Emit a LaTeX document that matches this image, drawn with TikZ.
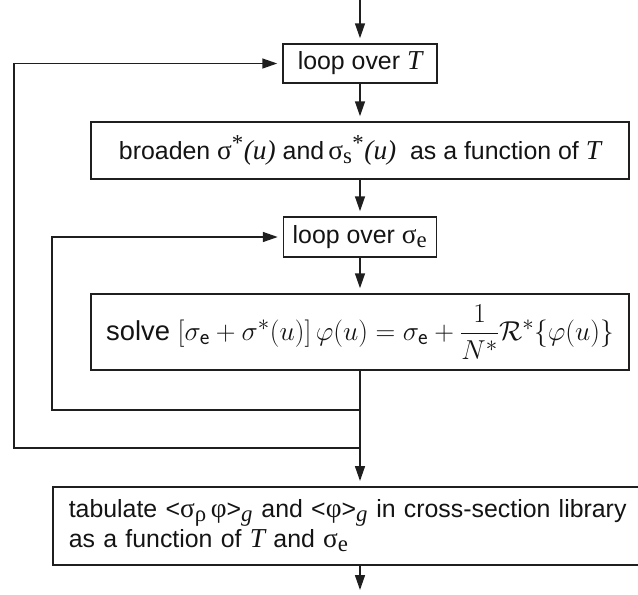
\documentclass[tikz,border=0pt]{standalone}
\usepackage{amsmath}
\usepackage{graphicx}
\usepackage[no-math]{fontspec}
\setmainfont{Liberation Sans}
\newfontfamily\serif{Liberation Serif}[Scale=1.1]
\usetikzlibrary{arrows.meta}

% Greek letters and italics set in a Times-like serif
\newcommand\sgm{\text{\serif σ}}
\newcommand\vph{\text{\serif φ}}
\newcommand\itx[1]{\text{\serif\itshape #1}}
\newcommand\rmx[1]{\text{\serif #1}}

\tikzset{
  box/.style={draw=black!88, line width=1.5pt, text=black!92, inner sep=0pt},
  flow/.style={draw=black!88, line width=1.5pt,
    -{Triangle[length=15pt,width=10pt]}, shorten >=5pt},
  wire/.style={draw=black!88, line width=1.5pt},
}

\begin{document}
\begin{tikzpicture}[x=1pt,y=-1pt,font=\fontsize{24.88}{29}\selectfont]
\useasboundingbox (0,0) rectangle (638,595);

\node[box, minimum width=154, minimum height=39] (loopT) at (360,63.5)
  {loop over $\itx{T}$};
\node[box, minimum width=538, minimum height=57] (broaden) at (360,150.5)
  {broaden $\sgm^{\rmx{*}}\itx{(u)}$ and$\,\sgm_{\rmx{s}}{}^{\rmx{*}}\itx{(u)}$~ as a function of $\itx{T}$};
\node[box, minimum width=153, minimum height=40] (loopS) at (360,237)
  {loop over $\sgm_{\rmx{e}}$};
\node[box, minimum width=538, minimum height=76] (solve) at (360,332)
  {\scalebox{1.1}{solve $[\sigma_{\mathsf{e}}+\sigma^*(u)]\,\varphi(u)=\sigma_{\mathsf{e}}+\dfrac{1}{N^*}\mathcal{R}^*\{\varphi(u)\}$}};
\node[box, anchor=north west, minimum height=78, text width=580, align=left,
  inner xsep=16pt] (tab) at (52,486)
  {tabulate <$\sgm_{\rmx{ρ}}\,\vph$>$_{\itx{g}}$ and <$\vph$>$_{\itx{g}}$ in cross-section library\\[1pt]
   as a function of $\itx{T}$ and $\sgm_{\rmx{e}}$};

\coordinate (in) at (360,0);
\coordinate (out) at (360,595);
\coordinate (j1) at (360,410);
\coordinate (j2) at (360,448);
\coordinate (c1) at (52,410);
\coordinate (c2) at (14,448);

\draw[flow] (in) -- (loopT.north);
\draw[flow] (loopT) -- (broaden);
\draw[flow] (broaden) -- (loopS);
\draw[flow] (loopS) -- (solve);
\draw[wire] (solve.south) -- (j2);
\draw[flow] (j1) -- (c1) |- (loopS.west);
\draw[flow] (j2) -- (c2) |- (loopT.west);
\draw[flow] (j2) -- (j2 |- tab.north);
\draw[flow] (j2 |- tab.south) -- (out);
\end{tikzpicture}
\end{document}
